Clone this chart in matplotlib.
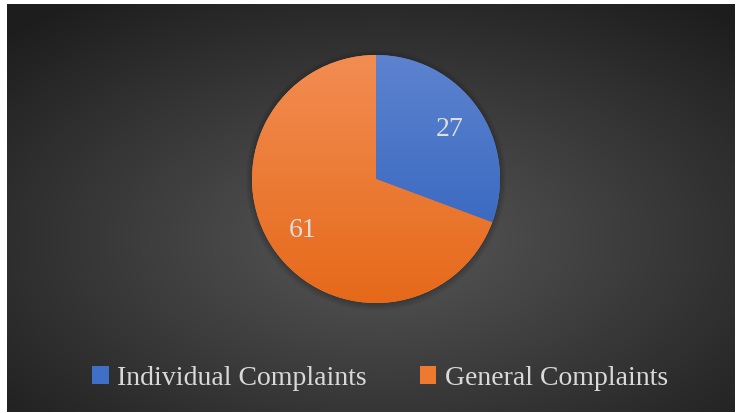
import numpy as np
import matplotlib.pyplot as plt
from matplotlib.colors import to_rgb
from matplotlib.patches import Patch, Circle

labels = ['Individual Complaints', 'General Complaints']
values = [27, 61]
top_colors = ['#5d83cf', '#f28d52']
bottom_colors = ['#2c5fbb', '#e6691a']

W, H = 737, 414
fig = plt.figure(figsize=(W / 100, H / 100), dpi=100, facecolor='white')

# dark radial background
bg = fig.add_axes([7 / W, 1 / H, 728 / W, 408 / H])
yy, xx = np.mgrid[0:408, 0:728]
d = np.hypot((xx - 375) / 728, (yy - 235) / 408)
d = np.clip(d / 0.72, 0, 1)
shade = 0.345 - (0.345 - 0.115) * d
bg.imshow(np.dstack([shade] * 3), aspect='auto', extent=(0, 1, 0, 1))
bg.set_axis_off()

# pie
cx, cy, r = 376, 180, 124
ax = fig.add_axes([(cx - r) / W, (H - cy - r) / H, 2 * r / W, 2 * r / H])
ax.set_axis_off()

wedges, _, autotexts = ax.pie(
    values, startangle=90, counterclock=False, radius=1.0,
    colors=top_colors, autopct=lambda p: '{:.0f}'.format(p * sum(values) / 100),
    pctdistance=0.72, wedgeprops=dict(linewidth=0),
    textprops=dict(color='#dedede', fontsize=20, family='Liberation Serif'))
ax.set_xlim(-1, 1)
ax.set_ylim(-1, 1)

# soft shadow
for i in range(6):
    ax.add_patch(Circle((0, -0.01), 1.0 + 0.01 * i, color='black',
                        alpha=0.04, lw=0, zorder=0, clip_on=False))

for w, c1, c2 in zip(wedges, top_colors, bottom_colors):
    a = np.array(to_rgb(c1))
    b = np.array(to_rgb(c2))
    t = np.linspace(0, 1, 256)[:, None]
    grad = (a * (1 - t) + b * t)[:, None, :]
    im = ax.imshow(grad, extent=(-1, 1, -1, 1), aspect='auto', zorder=2)
    im.set_clip_path(w)
for t in autotexts:
    t.set_zorder(3)

handles = [Patch(facecolor=c, edgecolor='none') for c in ['#3f6fc6', '#ee7a32']]
leg = fig.legend(handles, labels, loc='center', bbox_to_anchor=(380 / W, 1 - 379 / H),
                 ncol=2, frameon=False, handlelength=0.6, handleheight=0.6,
                 handletextpad=0.3, columnspacing=1.9,
                 prop=dict(family='Liberation Serif', size=20))
for t in leg.get_texts():
    t.set_color('#d9d9d9')

fig.savefig('out.png', dpi=100, facecolor='white')
